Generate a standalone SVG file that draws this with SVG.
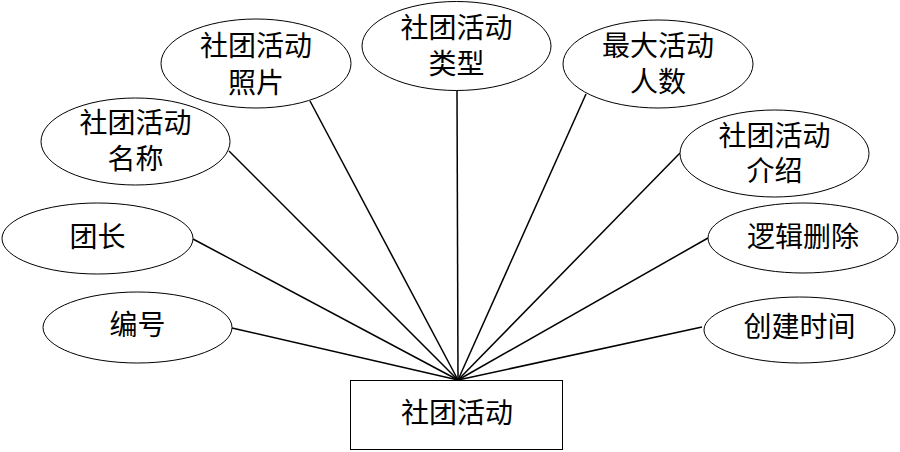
<svg xmlns="http://www.w3.org/2000/svg" width="900" height="452" viewBox="0 0 900 452">
<style>
.e{fill:#fff;stroke:#000;stroke-width:1}
.r{fill:#fff;stroke:#000;stroke-width:1}
.c line{stroke:#000;stroke-width:1.5}
text{font-family:"Liberation Serif","Noto Sans CJK SC",serif;font-size:28px;fill:#000;text-anchor:middle;dominant-baseline:central}
</style>
<rect width="900" height="452" fill="#fff"/>
<g id="connectors" class="c">
<line x1="310" y1="101" x2="458" y2="380"/>
<line x1="229" y1="151" x2="458" y2="380"/>
<line x1="457" y1="90" x2="458" y2="380"/>
<line x1="586" y1="94" x2="458" y2="380"/>
<line x1="680" y1="153" x2="458" y2="380"/>
<line x1="708" y1="238" x2="458" y2="380"/>
<line x1="702" y1="327" x2="458" y2="380"/>
<line x1="193" y1="239" x2="458" y2="380"/>
<line x1="232" y1="328" x2="458" y2="380"/>
</g>
<g id="entity">
<rect class="r" x="350.5" y="380.5" width="212" height="69"/>
<text x="457" y="413">社团活动</text>
</g>
<g id="attr-photo">
<ellipse class="e" cx="256" cy="63.5" rx="95" ry="44.5"/>
<text x="256" y="46">社团活动</text>
<text x="256" y="83">照片</text>
</g>
<g id="attr-name">
<ellipse class="e" cx="135.5" cy="141.5" rx="94.5" ry="43.5"/>
<text x="135.5" y="123.5">社团活动</text>
<text x="135.5" y="159">名称</text>
</g>
<g id="attr-type">
<ellipse class="e" cx="456.5" cy="46" rx="94.5" ry="44.5"/>
<text x="456.5" y="28.5">社团活动</text>
<text x="456.5" y="64">类型</text>
</g>
<g id="attr-max">
<ellipse class="e" cx="658" cy="64" rx="95" ry="44"/>
<text x="658" y="46.5">最大活动</text>
<text x="658" y="82">人数</text>
</g>
<g id="attr-intro">
<ellipse class="e" cx="774.5" cy="153.5" rx="94.5" ry="43.5"/>
<text x="774.5" y="136">社团活动</text>
<text x="774.5" y="171.5">介绍</text>
</g>
<g id="attr-delete">
<ellipse class="e" cx="803" cy="238" rx="95" ry="35"/>
<text x="803" y="237.5">逻辑删除</text>
</g>
<g id="attr-created">
<ellipse class="e" cx="799.5" cy="330" rx="95.5" ry="33"/>
<text x="799.5" y="327">创建时间</text>
</g>
<g id="attr-leader">
<ellipse class="e" cx="97.5" cy="238.5" rx="95.5" ry="35.5"/>
<text x="97.5" y="237.5">团长</text>
</g>
<g id="attr-id">
<ellipse class="e" cx="137.5" cy="327.5" rx="94.5" ry="35.5"/>
<text x="137.5" y="325">编号</text>
</g>
</svg>
